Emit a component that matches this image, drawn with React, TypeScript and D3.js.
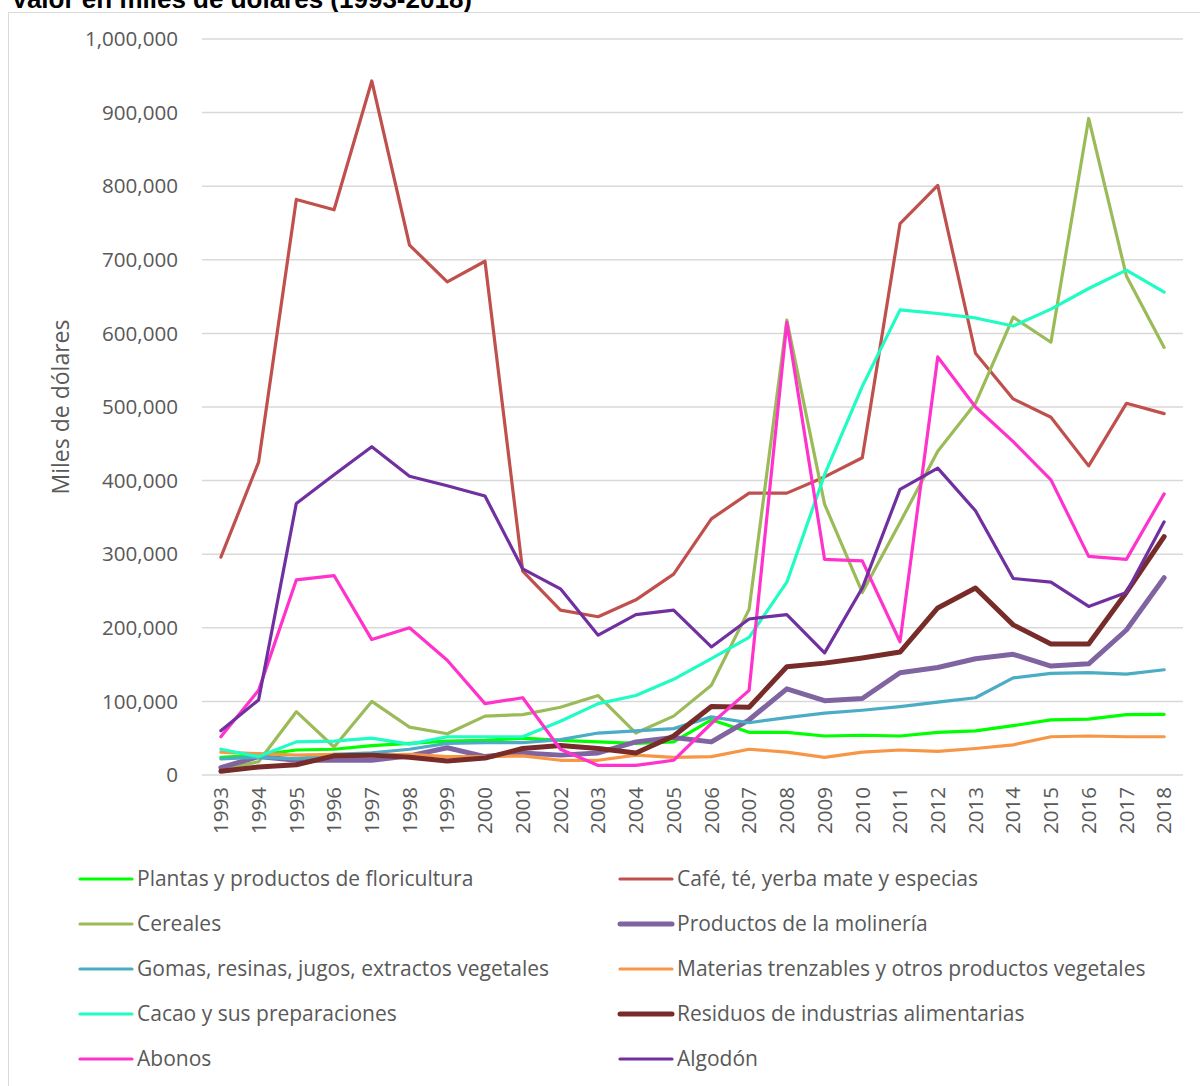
import React from "react";
import * as d3 from "d3";

const years = d3.range(1993, 2019).map(String);
const yTicks = [0, 100000, 200000, 300000, 400000, 500000, 600000, 700000, 800000, 900000, 1000000];

const plantas = [24, 27, 34, 35, 40, 43, 46, 47, 50, 47, 45, 43, 45, 75, 58, 58, 53, 54, 53, 58, 60, 67, 75, 76, 82, 82.5];
const cafe = [296, 425, 782, 768, 943, 720, 670, 698, 277, 224, 215, 238, 273, 348, 383, 383, 405, 431, 749, 801, 573, 511, 486, 420, 505, 491];
const cereales = [8, 18, 86, 38, 100, 65, 56, 80, 82, 92, 108, 57, 80, 122, 225, 618, 368, 248, 343, 440, 505, 622, 588, 892, 678, 581];
const molineria = [10, 25, 20, 20, 20, 26, 37, 25, 30, 27, 30, 45, 51, 45, 75, 117, 101, 104, 139, 146, 158, 164, 148, 151, 197, 268];
const gomas = [22, 24, 22, 28, 30, 35, 43, 44, 44, 48, 57, 60, 63, 79, 71, 78, 84, 88, 93, 99, 105, 132, 138, 139, 137, 143];
const materias = [31, 29, 27, 28, 27, 28, 25, 25, 26, 20, 20, 27, 24, 25, 35, 31, 24, 31, 34, 32, 36, 41, 52, 53, 52, 52];
const cacao = [35, 25, 45, 46, 50, 42, 52, 52, 52, 73, 97, 108, 130, 158, 187, 262, 408, 528, 632, 627, 621, 610, 633, 661, 686, 656];
const residuos = [5, 11, 14, 26, 27, 24, 19, 23, 36, 40, 36, 30, 53, 93, 92, 147, 152, 159, 167, 227, 254, 204, 178, 178, 248, 324];
const abonos = [52, 115, 265, 271, 184, 200, 156, 97, 105, 35, 13, 13, 20, 70, 115, 615, 293, 291, 181, 568, 500, 453, 401, 297, 293, 382];
const algodon = [60, 102, 369, 408, 446, 406, 393, 379, 280, 253, 190, 218, 224, 174, 212, 218, 166, 254, 388, 417, 359, 267, 262, 229, 248, 344];

const seriesNames = [
  "Plantas y productos de floricultura",
  "Café, té, yerba mate y especias",
  "Cereales",
  "Productos de la molinería",
  "Gomas, resinas, jugos, extractos vegetales",
  "Materias trenzables y otros productos vegetales",
  "Cacao y sus preparaciones",
  "Residuos de industrias alimentarias",
  "Abonos",
  "Algodón",
];
const seriesValues = [plantas, cafe, cereales, molineria, gomas, materias, cacao, residuos, abonos, algodon];
const seriesColors = ["#00FF00", "#C0504D", "#9BBB59", "#8064A2", "#4BACC6", "#F79646", "#1FFCC4", "#772C2A", "#FF33CC", "#7030A0"];
const seriesWidths = [3.2, 3.2, 3.2, 5, 3.2, 3.2, 3.2, 5, 3.2, 3.2];

export default function App() {
  const left = 202, right = 1183, top = 39, bottom = 775;
  const x = d3.scaleBand().domain(years).range([left, right]);
  const y = d3.scaleLinear().domain([0, 1000000]).range([bottom, top]);
  const line = d3
    .line<number>()
    .x((_, i) => (x(years[i]) as number) + x.bandwidth() / 2)
    .y((d) => y(d * 1000));
  const font = "'Open Sans', sans-serif";
  const textColor = "#595959";
  return (
    <svg width={1200} height={1086} style={{ position: "absolute", left: 0, top: 0, background: "#fff" }}>
      <text x={11} y={8} fontFamily="'Liberation Sans', Arial, sans-serif" fontWeight="bold" fontSize={26} fill="#000">
        Valor en miles de dólares (1993-2018)
      </text>
      <rect x={8.5} y={12.5} width={1200} height={1090} fill="none" stroke="#D9D9D9" strokeWidth={1} />
      {yTicks.map((t) => (
        <g key={t}>
          <line x1={left} x2={right} y1={y(t)} y2={y(t)} stroke="#D9D9D9" strokeWidth={1.5} />
          <text x={178} y={y(t)} dy="0.35em" textAnchor="end" fontFamily={font} fontSize={20.6} fill={textColor}>
            {d3.format(",")(t)}
          </text>
        </g>
      ))}
      {years.map((yr) => (
        <text
          key={yr}
          transform={`translate(${(x(yr) as number) + x.bandwidth() / 2},${787}) rotate(-90)`}
          textAnchor="end"
          dy="0.35em"
          fontFamily={font}
          fontSize={20.6}
          fill={textColor}
        >
          {yr}
        </text>
      ))}
      <text
        transform={`translate(61,${407}) rotate(-90)`}
        textAnchor="middle"
        dy="0.35em"
        fontFamily={font}
        fontSize={23}
        fill={textColor}
      >
        Miles de dólares
      </text>
      {seriesValues.map((vals, i) => (
        <path
          key={i}
          d={line(vals) || ""}
          fill="none"
          stroke={seriesColors[i]}
          strokeWidth={seriesWidths[i]}
          strokeLinejoin="round"
          strokeLinecap="round"
        />
      ))}
      {seriesNames.map((name, i) => {
        const col = i % 2;
        const row = Math.floor(i / 2);
        const lx = col === 0 ? 80 : 620;
        const ly = 879 + row * 45;
        return (
          <g key={name}>
            <line x1={lx} x2={lx + 52} y1={ly} y2={ly} stroke={seriesColors[i]} strokeWidth={seriesWidths[i]} strokeLinecap="round" />
            <text x={lx + 57} y={ly} dy="0.35em" fontFamily={font} fontSize={21} fill={textColor}>
              {name}
            </text>
          </g>
        );
      })}
    </svg>
  );
}
